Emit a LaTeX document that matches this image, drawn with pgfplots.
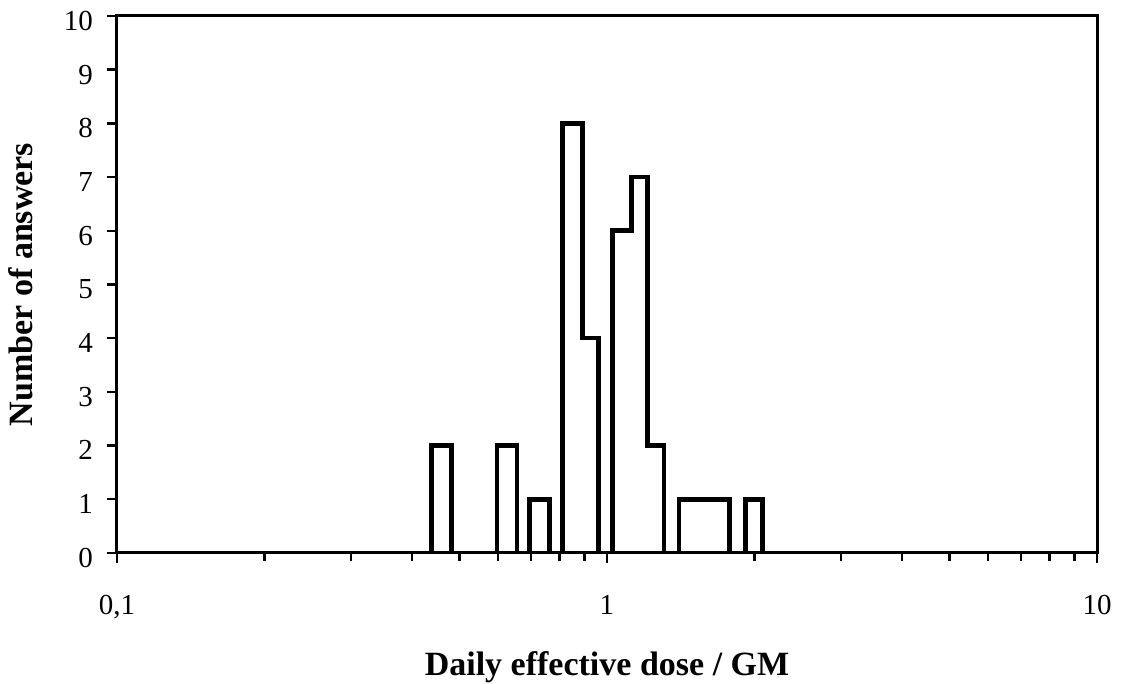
\documentclass[border=0pt]{standalone}
\usepackage{fontspec}
\setmainfont{Liberation Serif}
\usepackage{pgfplots}
\pgfplotsset{compat=1.18}

% Histogram of daily effective dose relative to the geometric mean
% (bin edge, count); const plot steps from each edge to the next
\begin{document}
\begin{tikzpicture}
\path[use as bounding box] (-58.5pt,-65.5pt) rectangle (502pt,276.5pt);
\begin{axis}[
  scale only axis, width=490pt, height=268.5pt,
  at={(0,0)}, anchor=south west,
  xmode=log, xmin=0.1, xmax=10, ymin=0, ymax=10,
  xtick={0.1,1,10}, xticklabels={{0,1},1,10},
  ytick={0,1,...,10},
  /pgf/number format/assume math mode=true,
  axis line style={line width=1.5pt, line cap=rect},
  tick style={line width=1.2pt, black},
  major tick length=5pt, minor tick length=4pt,
  tick align=outside, xtick pos=bottom, ytick pos=left,
  tick label style={font=\fontsize{14.5}{16}\selectfont},
  xticklabel style={anchor=base, yshift=-26pt},
  yticklabel style={anchor=base east, yshift=-7.2pt, xshift=-3.5pt},
  xlabel={Daily effective dose / GM},
  ylabel={Number of answers},
  label style={font=\fontsize{17}{20}\selectfont\bfseries},
  xlabel style={at={([yshift=-61.5pt]axis description cs:0.5,0)}, anchor=base},
  ylabel style={at={([xshift=-42pt]axis description cs:0,0.5)}, anchor=base, rotate=0},
]
\addplot[const plot, black, line width=2.3pt, line join=miter, mark=none] coordinates {
  (0.438,0) (0.438,2) (0.481,0) (0.596,2) (0.655,0) (0.695,1) (0.763,0)
  (0.812,8) (0.892,4) (0.960,0) (1.027,6) (1.122,7) (1.210,2) (1.308,0)
  (1.404,1) (1.780,0) (1.919,1) (2.075,0) (2.2,0)
};
\end{axis}
\end{tikzpicture}
\end{document}
